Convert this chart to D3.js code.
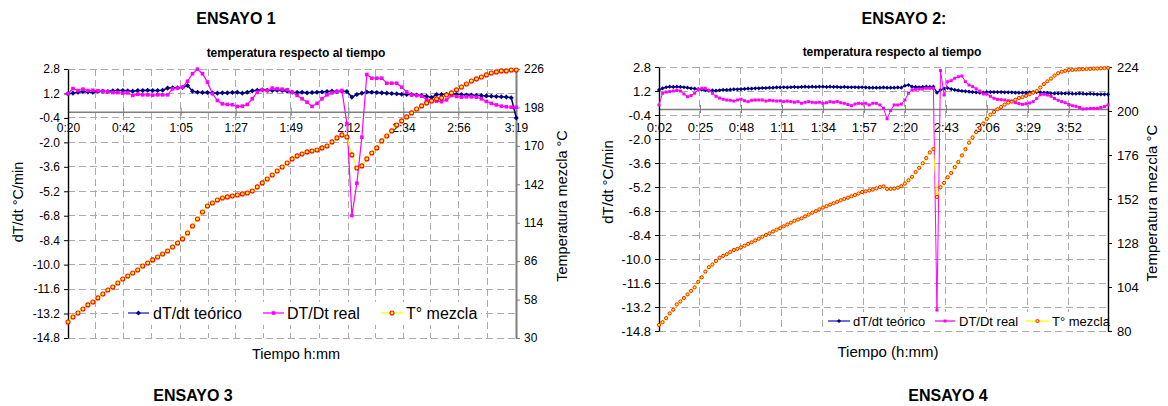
<!DOCTYPE html>
<html>
<head>
<meta charset="utf-8">
<script src="https://cdn.jsdelivr.net/npm/d3@7"></script>
<style>
  body { margin: 0; background: #fff; }
  svg { display: block; }
</style>
</head>
<body>
<svg id="chart" width="1168" height="406"></svg>
<script>
const FONT = "Arial, 'Liberation Sans', sans-serif";

// shared
const yTicks = [2.8, 1.2, -0.4, -2.0, -3.6, -5.2, -6.8, -8.4, -10.0, -11.6, -13.2, -14.8];
const seriesNames = ["dT/dt teórico", "DT/Dt real", "T° mezcla"];

// ENSAYO 1 (samples every ~2 min from 0:20)
const e1Labels = ["0:20", "0:42", "1:05", "1:27", "1:49", "2:12", "2:34", "2:56", "3:19"];
const e1RightTicks = [30, 58, 86, 114, 142, 170, 198, 226];
const e1Teorico = [
  1.18, 1.22, 1.28, 1.33, 1.30, 1.28, 1.33, 1.35, 1.33, 1.37,
  1.39, 1.39, 1.37, 1.35, 1.39, 1.39, 1.41, 1.39, 1.39, 1.41,
  1.55, 1.57, 1.57, 1.59, 1.72, 1.35, 1.28, 1.26, 1.26, 1.24,
  1.22, 1.24, 1.24, 1.26, 1.28, 1.22, 1.28, 1.37, 1.41, 1.44,
  1.41, 1.39, 1.41, 1.39, 1.35, 1.28, 1.26, 1.28, 1.24, 1.26,
  1.28, 1.30, 1.33, 1.35, 1.33, 1.35, 1.33, 0.96, 1.13, 1.22,
  1.30, 1.28, 1.26, 1.24, 1.22, 1.20, 1.18, 1.15, 1.13, 1.13,
  1.10, 1.07, 1.02, 0.94, 1.13, 1.13, 1.15, 1.18, 1.15, 1.13,
  1.10, 1.10, 1.07, 1.07, 1.04, 1.02, 1.00, 0.98, 0.96, 0.92,
  -0.40
];
const e1Real = [
  1.18, 1.52, 1.39, 1.48, 1.39, 1.41, 1.37, 1.35, 1.30, 1.26,
  1.26, 1.22, 1.24, 1.07, 1.15, 1.11, 1.11, 1.09, 1.11, 1.11,
  1.11, 1.50, 1.55, 1.61, 2.00, 2.49, 2.79, 2.49, 1.94, 1.18,
  0.74, 0.52, 0.48, 0.46, 0.35, 0.37, 0.48, 0.85, 1.28, 1.44,
  1.39, 1.55, 1.50, 1.48, 1.44, 1.28, 1.07, 0.85, 0.63, 0.35,
  0.55, 0.85, 1.11, 1.24, 1.33, 1.39, -0.77, -6.79, -4.67, -1.66,
  2.44, 2.20, 2.20, 2.20, 1.87, 1.87, 1.87, 1.61, 1.30, 1.10,
  1.07, 1.02, 0.80, 0.72, 0.70, 0.66, 0.78, 1.07, 1.00, 0.96,
  0.98, 0.98, 0.96, 0.85, 0.68, 0.55, 0.45, 0.37, 0.33, 0.30,
  0.30
];
const e1Mezcla = [
  41.7, 45.3, 48.2, 51.1, 54.1, 56.2, 59.2, 62.1, 65.0, 67.2,
  70.1, 73.0, 75.2, 77.4, 79.6, 82.5, 84.7, 86.9, 89.0, 91.2,
  93.4, 96.3, 99.2, 102.2, 106.5, 111.6, 116.7, 121.8, 126.2, 128.4,
  130.6, 132.0, 132.8, 133.5, 134.2, 135.0, 135.7, 137.1, 140.1, 143.0,
  145.9, 148.8, 151.7, 154.6, 157.5, 160.5, 162.7, 164.1, 165.6, 166.3,
  167.0, 168.5, 169.9, 172.9, 175.8, 178.0, 176.5, 163.4, 153.9, 155.4,
  160.5, 164.8, 168.5, 173.6, 177.2, 180.9, 185.2, 188.2, 191.1, 194.0,
  196.9, 199.1, 201.3, 202.7, 204.2, 204.9, 207.1, 208.6, 210.8, 212.9,
  215.1, 217.3, 218.8, 220.2, 221.7, 223.1, 223.9, 224.6, 224.6, 225.3,
  225.3
];

// ENSAYO 2 (samples every 2 min from 0:02)
const e2Labels = ["0:02", "0:25", "0:48", "1:11", "1:34", "1:57", "2:20", "2:43", "3:06", "3:29", "3:52"];
const e2RightTicks = [80, 104, 128, 152, 176, 200, 224];
const e2Teorico = [
  1.27, 1.38, 1.45, 1.49, 1.47, 1.49, 1.47, 1.45, 1.42, 1.38,
  1.36, 1.33, 1.29, 1.25, 1.22, 1.24, 1.22, 1.25, 1.27, 1.27,
  1.29, 1.31, 1.31, 1.33, 1.34, 1.36, 1.36, 1.38, 1.38, 1.40,
  1.40, 1.42, 1.42, 1.44, 1.44, 1.45, 1.44, 1.45, 1.47, 1.45,
  1.47, 1.49, 1.47, 1.49, 1.47, 1.49, 1.49, 1.47, 1.49, 1.47,
  1.47, 1.45, 1.47, 1.45, 1.45, 1.45, 1.44, 1.45, 1.44, 1.42,
  1.42, 1.42, 1.42, 1.44, 1.42, 1.42, 1.42, 1.44, 1.42, 1.55,
  1.60, 1.49, 1.47, 1.45, 1.47, 1.49, 1.47, 1.49, 1.09, 1.27,
  1.36, 1.40, 1.33, 1.27, 1.24, 1.20, 1.18, 1.16, 1.13, 1.11,
  1.09, 1.09, 1.13, 1.13, 1.13, 1.13, 1.13, 1.11, 1.11, 1.11,
  1.09, 1.09, 1.09, 1.09, 1.11, 1.13, 1.13, 1.11, 1.09, 1.07,
  1.05, 1.04, 1.04, 1.04, 1.04, 1.04, 1.02, 1.02, 1.04, 1.02,
  1.00, 1.02, 1.00, 0.98, 0.98, 0.98, 0.98
];
const e2Real = [
  0.27, 1.05, 1.13, 1.16, 1.20, 1.24, 1.20, 1.00, 0.82, 0.90,
  1.05, 1.30, 1.38, 1.38, 1.25, 1.05, 0.85, 0.73, 0.65, 0.60,
  0.58, 0.53, 0.60, 0.65, 0.55, 0.49, 0.58, 0.60, 0.60, 0.60,
  0.53, 0.58, 0.55, 0.53, 0.55, 0.49, 0.53, 0.49, 0.45, 0.49,
  0.38, 0.45, 0.49, 0.45, 0.42, 0.45, 0.38, 0.42, 0.49, 0.45,
  0.49, 0.42, 0.38, 0.30, 0.22, 0.33, 0.38, 0.35, 0.38, 0.27,
  0.38, 0.38, 0.27, 0.05, -0.65, -0.10, 0.27, 0.27, 0.33, 0.60,
  1.05, 1.27, 1.31, 1.33, 1.33, 1.38, 1.38, 1.38, -13.4, 2.56,
  0.93, 1.82, 1.89, 2.05, 2.15, 2.20, 1.82, 1.60, 1.49, 1.35,
  1.20, 1.00, 1.00, 0.85, 0.71, 0.64, 0.62, 0.60, 0.55, 0.53,
  0.42, 0.36, 0.31, 0.35, 0.40, 0.49, 0.70, 0.95, 0.98, 0.93,
  0.85, 0.70, 0.58, 0.49, 0.42, 0.30, 0.22, 0.18, 0.10, 0.00,
  0.02, 0.04, 0.04, 0.04, 0.10, 0.16, 0.27
];
const e2Mezcla = [
  83.3, 84.8, 87.0, 89.6, 91.6, 94.5, 96.1, 98.0, 100.0, 101.9,
  103.8, 106.8, 109.3, 112.4, 114.8, 116.3, 118.2, 120.0, 121.0, 121.9,
  123.1, 124.2, 124.8, 125.6, 126.5, 127.5, 128.4, 129.4, 130.3, 131.4,
  132.4, 133.3, 134.3, 135.3, 136.1, 137.1, 138.1, 139.1, 140.1, 140.8,
  141.5, 142.5, 143.5, 144.5, 145.4, 146.4, 147.3, 148.1, 148.9, 149.7,
  150.5, 151.3, 152.0, 152.7, 153.5, 154.2, 155.0, 155.8, 156.2, 156.7,
  157.1, 157.8, 158.5, 158.9, 157.5, 157.5, 157.7, 158.2, 159.0, 160.4,
  162.2, 164.1, 166.7, 169.0, 171.5, 174.3, 177.4, 179.3, 153.1, 158.4,
  160.8, 163.9, 166.2, 169.4, 172.2, 175.8, 179.2, 182.7, 185.6, 188.5,
  190.8, 193.2, 195.7, 198.0, 199.5, 201.0, 202.2, 203.5, 204.6, 205.1,
  206.1, 207.1, 207.6, 208.3, 209.2, 210.0, 210.9, 212.8, 214.7, 216.2,
  217.7, 219.3, 220.6, 221.4, 221.9, 222.4, 222.4, 222.6, 222.7, 222.8,
  222.9, 223.0, 223.1, 223.2, 223.3, 223.4, 223.5
];

const svg = d3.select("#chart").attr("font-family", FONT);

const toMin = s => {
  const [h, m] = s.split(":").map(Number);
  return h * 60 + m;
};

function drawChart(c) {
  const g = svg.append("g");
  const tickMin = c.labels.map(toMin);
  const x = d3.scaleLinear().domain([tickMin[0], c.tEnd]).range([c.left, c.right]);
  const y = d3.scaleLinear().domain(d3.extent(yTicks)).range([c.bottom, c.top]);
  const y2 = d3.scaleLinear().domain(d3.extent(c.rTicks)).range([c.bottom, c.top]);
  const t = i => tickMin[0] + i * c.tStep;

  // dashed grid
  const gridMin = c.halfGrid
    ? tickMin.flatMap((m, i) => i ? [(tickMin[i - 1] + m) / 2, m] : [m])
    : tickMin;
  const grid = g.append("g")
    .attr("stroke", "#ababab")
    .attr("stroke-dasharray", "7,4")
    .attr("shape-rendering", "crispEdges");
  grid.selectAll(".h").data(yTicks).join("line")
    .attr("x1", c.left).attr("x2", c.right)
    .attr("y1", d => y(d)).attr("y2", d => y(d));
  grid.selectAll(".v").data(gridMin.slice(1)).join("line")
    .attr("x1", d => x(d)).attr("x2", d => x(d))
    .attr("y1", c.top).attr("y2", c.bottom);

  // x axis sits on y = 0
  const xAxis = g.append("g")
    .attr("transform", `translate(0,${y(0)})`)
    .call(d3.axisBottom(x)
      .tickValues(tickMin)
      .tickFormat((d, i) => c.labels[i])
      .tickSize(4).tickSizeOuter(0).tickPadding(c.xPad));
  xAxis.attr("font-family", FONT).attr("font-size", c.tickFont);
  xAxis.select(".domain").attr("stroke", "#7f7f7f").attr("stroke-width", 1.6);
  xAxis.selectAll(".tick line").attr("y1", -4).attr("stroke", "#7f7f7f");

  const yAxis = g.append("g")
    .attr("transform", `translate(${c.left},0)`)
    .call(d3.axisLeft(y)
      .tickValues(yTicks)
      .tickFormat(d => d.toFixed(1))
      .tickSize(4).tickSizeOuter(0).tickPadding(4));
  yAxis.attr("font-family", FONT).attr("font-size", c.tickFont);
  yAxis.select(".domain").attr("stroke-width", 1.4);

  const rAxis = g.append("g")
    .attr("transform", `translate(${c.right},0)`)
    .call(d3.axisRight(y2)
      .tickValues(c.rTicks)
      .tickSize(4).tickSizeOuter(0).tickPadding(c.rPad));
  rAxis.attr("font-family", FONT).attr("font-size", c.tickFont);
  rAxis.select(".domain").attr("stroke", c.rColor).attr("stroke-width", c.rWidth);
  rAxis.selectAll(".tick line").attr("stroke", c.rColor);

  // series
  const lineL = d3.line().x((d, i) => x(t(i))).y(d => y(d));
  const lineR = d3.line().x((d, i) => x(t(i))).y(d => y2(d));

  g.append("path").datum(c.teorico)
    .attr("fill", "none").attr("stroke", "#000080").attr("stroke-width", c.lw + 0.3)
    .attr("d", lineL);
  g.append("g").selectAll("rect").data(c.teorico).join("rect")
    .attr("x", -c.ms / 2).attr("y", -c.ms / 2)
    .attr("width", c.ms).attr("height", c.ms)
    .attr("transform", (d, i) => `translate(${x(t(i))},${y(d)}) rotate(45)`)
    .attr("fill", "#000080");

  g.append("path").datum(c.real)
    .attr("fill", "none").attr("stroke", "#ff00ff").attr("stroke-width", c.lw)
    .attr("d", lineL);
  g.append("g").selectAll("rect").data(c.real).join("rect")
    .attr("x", (d, i) => x(t(i)) - c.ms / 2).attr("y", d => y(d) - c.ms / 2)
    .attr("width", c.ms).attr("height", c.ms)
    .attr("fill", "#ff00ff");

  g.append("path").datum(c.mezcla)
    .attr("fill", "none").attr("stroke", "#ffff00").attr("stroke-width", c.lw)
    .attr("d", lineR);
  g.append("g").selectAll("circle").data(c.mezcla).join("circle")
    .attr("cx", (d, i) => x(t(i))).attr("cy", d => y2(d))
    .attr("r", c.cr)
    .attr("fill", "#ffff00").attr("stroke", "#ff0000").attr("stroke-width", c.cw);

  // legend
  const lg = g.append("g").attr("font-size", c.legendFont);
  lg.append("rect")
    .attr("x", c.legend.box[0]).attr("y", c.legend.box[1])
    .attr("width", c.legend.box[2]).attr("height", c.legend.box[3])
    .attr("fill", "#fff");
  const styles = [
    { stroke: "#1f1fd0", fill: "#000080", shape: "diamond" },
    { stroke: "#ff00ff", fill: "#ff00ff", shape: "square" },
    { stroke: "#ffff00", fill: "#ffff00", shape: "circle" }
  ];
  c.legend.items.forEach((it, i) => {
    const ly = c.legend.y, mx = (it[0] + it[1]) / 2, st = styles[i];
    lg.append("line").attr("x1", it[0]).attr("x2", it[1]).attr("y1", ly).attr("y2", ly)
      .attr("stroke", st.stroke).attr("stroke-width", 1.3);
    if (st.shape === "circle") {
      lg.append("circle").attr("cx", mx).attr("cy", ly).attr("r", c.cr)
        .attr("fill", st.fill).attr("stroke", "#ff0000").attr("stroke-width", c.cw);
    } else {
      lg.append("rect").attr("x", -c.ms / 2).attr("y", -c.ms / 2)
        .attr("width", c.ms).attr("height", c.ms).attr("fill", st.fill)
        .attr("transform", `translate(${mx},${ly})` + (st.shape === "diamond" ? " rotate(45)" : ""));
    }
    lg.append("text").attr("x", it[2]).attr("y", ly).attr("dy", "0.36em")
      .text(seriesNames[i]);
  });

  // titles
  g.append("text").attr("x", c.title[0]).attr("y", c.title[1])
    .attr("text-anchor", "middle").attr("font-weight", "bold").attr("font-size", 12)
    .text("temperatura respecto al tiempo");
  g.append("text").attr("x", c.xTitle[0]).attr("y", c.xTitle[1]).attr("dy", "0.36em")
    .attr("text-anchor", "middle").attr("font-size", c.axisFont)
    .text(c.xName);
  g.append("text")
    .attr("transform", `translate(${c.yTitle[0]},${c.yTitle[1]}) rotate(-90)`)
    .attr("dy", "0.36em").attr("text-anchor", "middle").attr("font-size", c.axisFont)
    .text("dT/dt °C/min");
  g.append("text")
    .attr("transform", `translate(${c.rTitle[0]},${c.rTitle[1]}) rotate(-90)`)
    .attr("dy", "0.36em").attr("text-anchor", "middle").attr("font-size", c.axisFont)
    .text("Temperatura mezcla °C");
}

drawChart({
  labels: e1Labels, tEnd: toMin("3:19"), tStep: 1.99, halfGrid: true,
  left: 68, right: 516, top: 69, bottom: 338,
  rTicks: e1RightTicks, rColor: "#7f7f7f", rWidth: 2, rPad: 4,
  teorico: e1Teorico, real: e1Real, mezcla: e1Mezcla,
  tickFont: 12, xPad: 8, legendFont: 16, axisFont: 14.5,
  lw: 1.2, ms: 3.6, cr: 2, cw: 1.1,
  title: [296, 57], xTitle: [296, 354], xName: "Tiempo h:mm",
  yTitle: [18, 202], rTitle: [562, 206],
  legend: { y: 313, box: [124, 302, 357, 23],
    items: [[128, 149, 153], [263, 284, 287], [381, 403, 406]] }
});

drawChart({
  labels: e2Labels, tEnd: 254, tStep: 2, halfGrid: false,
  left: 659, right: 1108, top: 67, bottom: 331,
  rTicks: e2RightTicks, rColor: "#000", rWidth: 1.4, rPad: 5,
  teorico: e2Teorico, real: e2Real, mezcla: e2Mezcla,
  tickFont: 13, xPad: 10, legendFont: 13, axisFont: 15,
  lw: 1, ms: 3, cr: 1.6, cw: 0.9,
  title: [892, 56], xTitle: [888, 352], xName: "Tiempo (h:mm)",
  yTitle: [608, 182], rTitle: [1152, 203],
  legend: { y: 321, box: [824, 312, 283, 18],
    items: [[828, 850, 853], [935, 955, 959], [1026, 1049, 1052]] }
});

// report headings
const headings = [["ENSAYO 1", 236, 24], ["ENSAYO 2:", 904, 24], ["ENSAYO 3", 193, 401], ["ENSAYO 4", 948, 401]];
svg.append("g").selectAll("text").data(headings).join("text")
  .attr("x", d => d[1]).attr("y", d => d[2])
  .attr("text-anchor", "middle").attr("font-weight", "bold").attr("font-size", 16)
  .text(d => d[0]);
</script>
</body>
</html>
